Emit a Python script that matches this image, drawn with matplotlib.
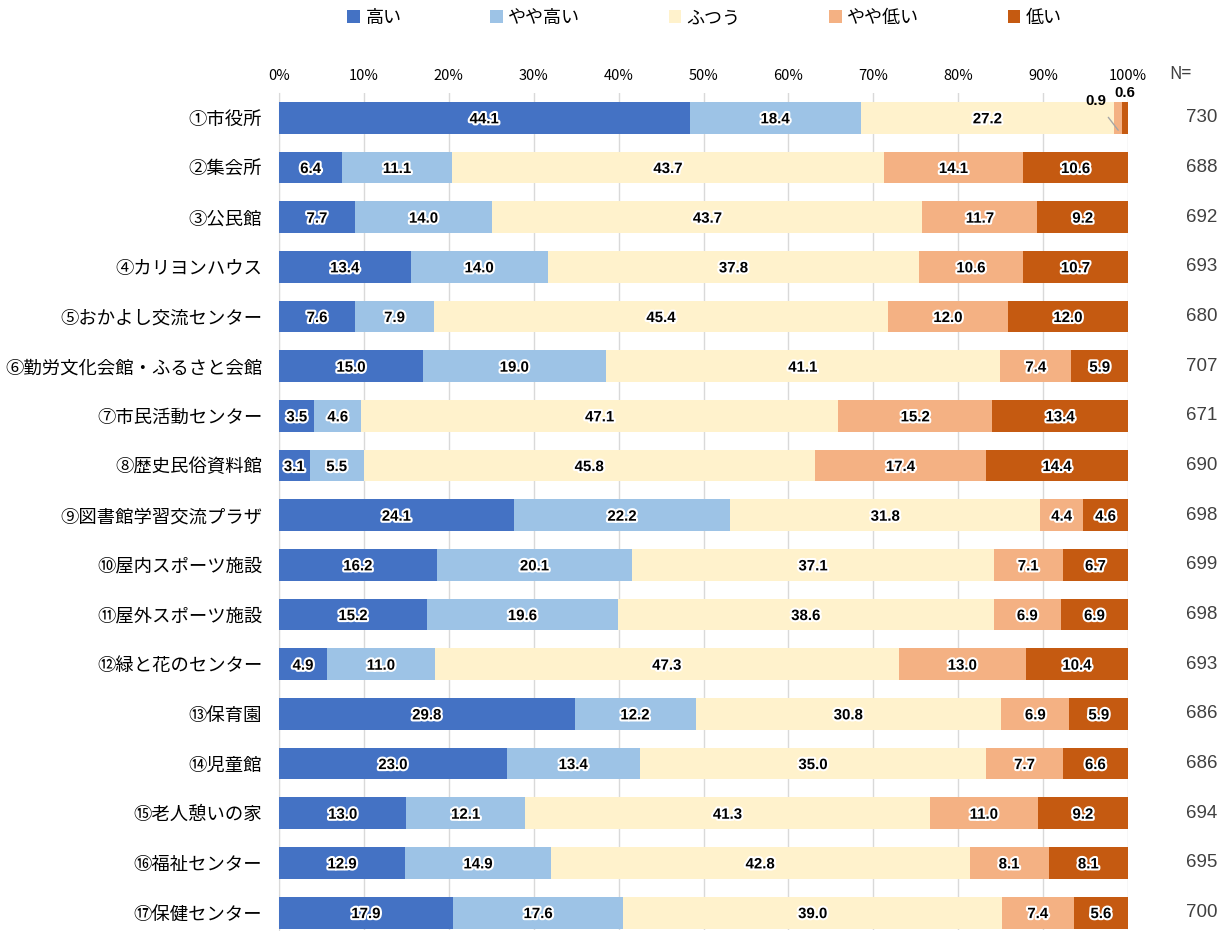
import numpy as np
import matplotlib.pyplot as plt
import matplotlib.patheffects as pe

plt.rcParams['font.family'] = ['Noto Sans CJK JP', 'DejaVu Sans']

# 施設名と回答数
facilities = ['①市役所', '②集会所', '③公民館', '④カリヨンハウス', '⑤おかよし交流センター',
              '⑥勤労文化会館・ふるさと会館', '⑦市民活動センター', '⑧歴史民俗資料館',
              '⑨図書館学習交流プラザ', '⑩屋内スポーツ施設', '⑪屋外スポーツ施設',
              '⑫緑と花のセンター', '⑬保育園', '⑭児童館', '⑮老人憩いの家',
              '⑯福祉センター', '⑰保健センター']
n_counts = [730, 688, 692, 693, 680, 707, 671, 690, 698, 699, 698, 693, 686, 686, 694, 695, 700]

categories = ['高い', 'やや高い', 'ふつう', 'やや低い', '低い']
high = [44.1, 6.4, 7.7, 13.4, 7.6, 15.0, 3.5, 3.1, 24.1, 16.2, 15.2, 4.9, 29.8, 23.0, 13.0, 12.9, 17.9]
some_high = [18.4, 11.1, 14.0, 14.0, 7.9, 19.0, 4.6, 5.5, 22.2, 20.1, 19.6, 11.0, 12.2, 13.4, 12.1, 14.9, 17.6]
normal = [27.2, 43.7, 43.7, 37.8, 45.4, 41.1, 47.1, 45.8, 31.8, 37.1, 38.6, 47.3, 30.8, 35.0, 41.3, 42.8, 39.0]
some_low = [0.9, 14.1, 11.7, 10.6, 12.0, 7.4, 15.2, 17.4, 4.4, 7.1, 6.9, 13.0, 6.9, 7.7, 11.0, 8.1, 7.4]
low = [0.6, 10.6, 9.2, 10.7, 12.0, 5.9, 13.4, 14.4, 4.6, 6.7, 6.9, 10.4, 5.9, 6.6, 9.2, 8.1, 5.6]

colors = ['#4472C4', '#9DC3E6', '#FFF2CC', '#F4B183', '#C55A11']

vals = np.array([high, some_high, normal, some_low, low])
# 100%積み上げ（合計で正規化）
share = vals / vals.sum(axis=0) * 100

fig = plt.figure(figsize=(12.19, 9.31), dpi=100)
ax = fig.add_axes([279 / 1219, 1 - 930 / 931, 849 / 1219, (930 - 93) / 931])

y = np.arange(len(facilities))
left = np.zeros(len(facilities))
stroke = [pe.withStroke(linewidth=3, foreground='white')]
for i, cat in enumerate(categories):
    ax.barh(y, share[i], left=left, height=0.64, color=colors[i], label=cat, zorder=3)
    for j in range(len(facilities)):
        if j == 0 and i >= 3:
            continue
        ax.text(left[j] + share[i][j] / 2, y[j] + 0.03, f'{vals[i][j]:.1f}', ha='center', va='center',
                fontsize=10.8, fontweight='bold', family='Liberation Sans', color='black',
                path_effects=stroke, zorder=5)
    left += share[i]

# 市役所の小さい値
x_sl = share[0][0] + share[1][0] + share[2][0]
ax.annotate(f'{vals[3][0]:.1f}', xy=(x_sl + share[3][0] / 2, 0.25), xytext=(96.2, -0.34),
            ha='center', va='center', fontsize=10.8, fontweight='bold', family='Liberation Sans',
            arrowprops=dict(arrowstyle='-', color='#A6A6A6', lw=1, shrinkA=6, shrinkB=0), zorder=5)
ax.text(x_sl + share[3][0] + share[4][0] / 2, -0.5, f'{vals[4][0]:.1f}', ha='center', va='center',
        fontsize=10.8, fontweight='bold', family='Liberation Sans', zorder=5)

ax.set_xlim(0, 100)
ax.set_ylim(16.35, -0.5)
ax.set_xticks(np.arange(0, 101, 10))
ax.set_xticklabels([f'{t}%' for t in range(0, 101, 10)], fontsize=10.5)
ax.xaxis.tick_top()
ax.tick_params(axis='x', length=0, pad=7)
ax.set_yticks(y)
ax.set_yticklabels(facilities, fontsize=13.2)
ax.tick_params(axis='y', length=0, pad=12)
ax.grid(axis='x', color='#D9D9D9', lw=1, zorder=0)
for s in ['top', 'right', 'bottom']:
    ax.spines[s].set_visible(False)
ax.spines['left'].set_color('#D9D9D9')

# N=
ax.text(1.062, 1.012, 'N=', transform=ax.transAxes, ha='center', va='bottom', fontsize=12.5,
        color='#404040')
for j, n in enumerate(n_counts):
    ax.text(1.087, y[j], str(n), transform=ax.get_yaxis_transform(), ha='center', va='center',
            fontsize=13.5, family='Liberation Sans', color='#404040')

fig.legend(loc='center', bbox_to_anchor=(0.578, 1 - 18 / 931), ncol=5, frameon=False,
           fontsize=13, handlelength=0.7, handleheight=0.7, handletextpad=0.3, columnspacing=4.9)

fig.savefig('out.png', dpi=100)
